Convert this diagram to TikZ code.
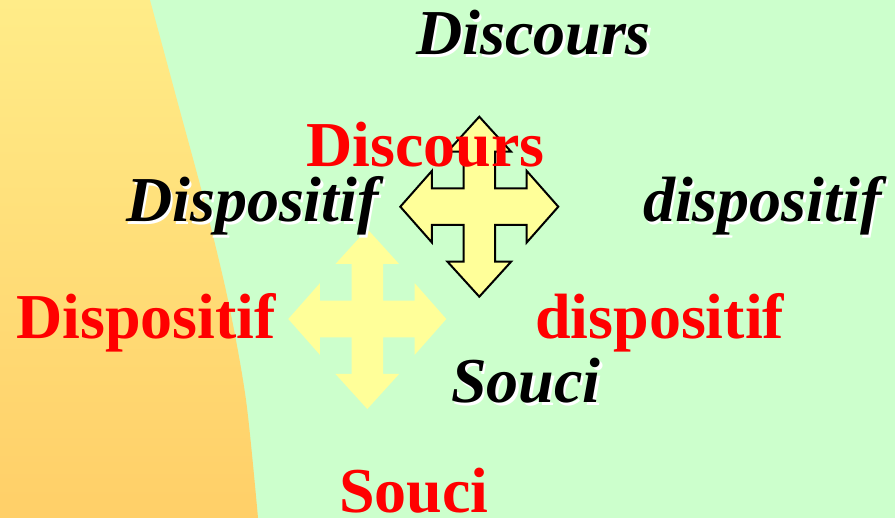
\documentclass[tikz,border=0pt]{standalone}
\usepackage{fontspec}
\setmainfont{Liberation Serif}
\definecolor{bggreen}{HTML}{CCFFCC}
\definecolor{orangetop}{HTML}{FFEC88}
\definecolor{orangebot}{HTML}{FFCF68}
\definecolor{arrowyellow}{HTML}{FFFF99}
\definecolor{wordred}{HTML}{FF0000}
\tikzset{
  blackword/.style={anchor=base west, inner sep=0pt, text=black, font=\fontsize{64}{64}\selectfont\bfseries\itshape},
  shadowword/.style={anchor=base west, inner sep=0pt, text=white, font=\fontsize{64}{64}\selectfont\bfseries\itshape},
  redword/.style={anchor=base west, inner sep=0pt, text=wordred, font=\fontsize{64}{64}\selectfont\bfseries},
  pics/quadarr/.style={code={
    \path[pic actions] (0,-90) -- (31.8,-55) -- (15.8,-55) -- (15.8,-18.3)
      -- (47.4,-18.3) -- (47.4,-35.8) -- (79,0) -- (47.4,35.8) -- (47.4,18.3)
      -- (15.8,18.3) -- (15.8,55) -- (31.8,55) -- (0,90) -- (-31.8,55)
      -- (-15.8,55) -- (-15.8,18.3) -- (-47.4,18.3) -- (-47.4,35.8) -- (-79,0)
      -- (-47.4,-35.8) -- (-47.4,-18.3) -- (-15.8,-18.3) -- (-15.8,-55)
      -- (-31.8,-55) -- cycle;
  }}
}
\begin{document}
\begin{tikzpicture}[x=1pt,y=-1pt]
\useasboundingbox (0,0) rectangle (895,518);
\fill[bggreen] (0,0) rectangle (895,518);
\shade[top color=orangetop, bottom color=orangebot]
  (0,0) -- plot[smooth] coordinates {(150,0) (177,100) (204,200) (228,300) (246,400) (258,518)}
  -- (0,518) -- cycle;
% arrows
\pic[fill=arrowyellow] (lowarrow) at (367.3,319) {quadarr};
\pic[fill=arrowyellow, draw=black, line width=2pt, line join=miter] (uparrow) at (479.3,206.7) {quadarr};
% black words with white shadow
\node[shadowword] (s1) at (418.5,57.5) {Discours};
\node[blackword] (b1) at (416,55) {Discours};
\node[shadowword] (s2) at (128.5,224.5) {Dispositif};
\node[blackword] (b2) at (126,222) {Dispositif};
\node[shadowword] (s3) at (645.5,224.5) {dispositif};
\node[blackword] (b3) at (643,222) {dispositif};
\node[shadowword] (s4) at (453.5,405.5) {Souci};
\node[blackword] (b4) at (451,403) {Souci};
% red words
\node[redword] (r1) at (306,167) {Discours};
\node[redword] (r2) at (16,339) {Dispositif};
\node[redword] (r3) at (535,339) {dispositif};
\node[redword] (r4) at (339,513) {Souci};
\end{tikzpicture}
\end{document}
